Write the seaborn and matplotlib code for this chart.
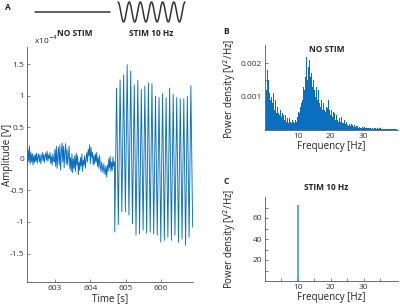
import numpy as np
import pandas as pd
import matplotlib
matplotlib.use("Agg")
import matplotlib.pyplot as plt
from matplotlib.ticker import FixedLocator
import seaborn as sns

# ---------------- data ----------------
# Panel A: no-stim segment (x1e-4 V), sampled every 0.02 s from 602.22 s
nostim_t0 = 602.22
nostim_dt = 0.02
nostim_vals = [
    -0.1, 0.15, -0.05, 0.2, -0.08, 0.1, -0.05, 0.08, -0.1,
    0.05, -0.06, 0.07, -0.04, 0.09, -0.07, 0.03, 0.08, -0.05, 0.06, -0.08, 0.02, 0.1, -0.03,
    0.07, -0.06, 0.05, 0.09, -0.02, 0.12, -0.04, 0.06, 0.0, 0.1, -0.07, 0.04, -0.1, 0.08, -0.02,
    -0.05, 0.15, -0.12, 0.2, -0.15, 0.05, 0.18, -0.1, 0.22, -0.18, 0.1, 0.25, -0.05, 0.2, -0.14,
    0.12, 0.24, -0.08, 0.15, -0.1, 0.05, 0.2, -0.16, 0.02, -0.2, 0.08,
    -0.22, 0.0, -0.15, 0.05, -0.2, 0.09, -0.1, 0.05, -0.25, -0.05, -0.18, 0.02, -0.12, 0.08,
    -0.2, -0.02, -0.1, 0.05, -0.15, 0.0,
    0.1, -0.05, 0.15, 0.05, 0.22, -0.08, 0.18, 0.02, 0.1, -0.1,
    0.05, -0.08, 0.08, -0.05, 0.1, -0.12, 0.02, -0.15, 0.05, -0.1, -0.2, -0.05, -0.15, -0.22,
    -0.08, -0.18, -0.25, -0.12, -0.29,
    -0.1, -0.2, 0.0, -0.15, 0.04, -0.2, -0.05, -0.18, 0.03, -0.12, -0.05,
]
# Panel A: 10 Hz stimulation segment, troughs and peaks (x1e-4 V)
stim_t0 = 604.69
stim_half_period = 0.05
stim_troughs = [-1.16, -1.04, -0.84, -0.84, -0.89, -1.03, -1.21, -1.19, -1.13, -1.18, -1.16, -1.19,
                -1.21, -1.32, -1.29, -1.24, -1.29, -1.21, -1.32, -1.27, -1.37, -1.24, -1.08]
stim_peaks = [1.12, 1.25, 1.33, 1.49, 1.39, 1.17, 1.24, 1.10, 1.15, 1.20, 1.19,
              0.99, 0.97, 1.03, 0.97, 1.12, 1.02, 0.97, 0.95, 0.95, 0.99, 1.16]

# Panel B: power spectrum, no stim (x1e-3 V^2/Hz), 0.5 .. 40 Hz step 0.25
psd_f0, psd_df = 0.5, 0.25
psd_nostim = [
    1.2, 1.8,
    1.5, 1.1, 1.3, 0.9,   1.0, 0.8, 1.1, 0.7,   0.6, 0.9, 0.5, 0.7,   0.5, 0.8, 0.45, 0.6,
    0.4, 0.5, 0.35, 0.45, 0.3, 0.45, 0.25, 0.35, 0.3, 0.2, 0.35, 0.25, 0.2, 0.3, 0.15, 0.25,
    0.2, 0.3, 0.25, 0.35, 0.4, 0.55, 0.5, 0.7,  0.8, 1.0, 0.9, 1.3,   1.2, 1.6, 1.4, 2.2,
    1.5, 1.9, 2.1, 1.6,   1.4, 1.7, 1.3, 1.5,   1.2, 1.7, 1.0, 1.3,   0.9, 1.2, 0.8, 1.0,
    0.7, 0.9, 0.6, 0.8,   0.6, 0.85, 0.55, 0.7, 0.65, 0.9, 0.5, 0.6,  0.45, 0.6, 0.4, 0.55,
    0.35, 0.5, 0.3, 0.45, 0.3, 0.45, 0.25, 0.35, 0.25, 0.4, 0.2, 0.3, 0.2, 0.3, 0.18, 0.25,
    0.15, 0.22, 0.12, 0.18, 0.12, 0.18, 0.1, 0.15, 0.1, 0.15, 0.08, 0.12, 0.08, 0.12, 0.07, 0.1,
    0.07, 0.1, 0.06, 0.09, 0.06, 0.08, 0.05, 0.07, 0.05, 0.07, 0.05, 0.06, 0.05, 0.06, 0.04, 0.06,
    0.04, 0.06, 0.04, 0.05, 0.04, 0.05, 0.03, 0.05, 0.03, 0.05, 0.03, 0.04, 0.03, 0.04, 0.03, 0.04,
    0.03, 0.04, 0.02, 0.03, 0.02, 0.03, 0.02, 0.03, 0.02, 0.03, 0.02, 0.03,
    0.02,
]
# Panel C: power spectrum, STIM 10 Hz
psd_stim_freq = [10.0]
psd_stim_vals = [72.0]

a_xticks = [603, 604, 605, 606]
a_yticks = [-1.5, -1, -0.5, 0, 0.5, 1, 1.5]
a_yticklabels = ["-1.5", "-1", "-0.5", "0", "0.5", "1", "1.5"]
b_yticks = [0.001, 0.002]
c_yticks = [20, 40, 60]
f_ticks = [10, 20, 30]

# ---------------- build arrays ----------------
t_nostim = nostim_t0 + nostim_dt * np.arange(len(nostim_vals))
stim_vals = []
for i, tr in enumerate(stim_troughs):
    stim_vals.append(tr)
    if i < len(stim_peaks):
        stim_vals.append(stim_peaks[i])
t_stim = stim_t0 + stim_half_period * np.arange(len(stim_vals))
df_a = pd.DataFrame({"t": np.concatenate([t_nostim, t_stim]),
                     "v": np.concatenate([nostim_vals, stim_vals])})
psd_freq = psd_f0 + psd_df * np.arange(len(psd_nostim))
df_b = pd.DataFrame({"f": psd_freq, "p": np.array(psd_nostim) * 1e-3})

# ---------------- style ----------------
sns.set_theme(style="ticks")
plt.rcParams["font.family"] = ["Open Sans", "DejaVu Sans"]
plt.rcParams.update({
    "axes.edgecolor": "#555555", "axes.linewidth": 0.6,
    "xtick.color": "#555555", "ytick.color": "#555555",
    "xtick.labelcolor": "#333333", "ytick.labelcolor": "#333333",
    "xtick.direction": "in", "ytick.direction": "in",
    "xtick.major.size": 2.2, "ytick.major.size": 2.2,
    "xtick.minor.size": 2.2, "ytick.minor.size": 2.2,
    "xtick.major.width": 0.5, "ytick.major.width": 0.5,
    "xtick.minor.width": 0.5, "ytick.minor.width": 0.5,
    "xtick.labelsize": 6, "ytick.labelsize": 6,
    "xtick.major.pad": 2, "ytick.major.pad": 2,
})
BLUE = "#0a6fbf"
LBLUE = "#3a8fd3"
TXT = "#222222"

W, H = 400, 304
fig = plt.figure(figsize=(W / 100, H / 100), dpi=100)

def frac(x0, y0, x1, y1):
    return [x0 / W, 1 - y1 / H, (x1 - x0) / W, (y1 - y0) / H]

# ---------------- Panel A ----------------
axA = fig.add_axes(frac(27, 47, 193, 282))
sns.lineplot(data=df_a, x="t", y="v", ax=axA, color=BLUE, linewidth=0.65,
             estimator=None, sort=False)
axA.set_xlim(602.21, 606.9)
axA.set_ylim(-1.95, 1.77)
axA.set_xticks(a_xticks)
axA.set_xticklabels([str(v) for v in a_xticks])
axA.set_yticks(a_yticks)
axA.set_yticklabels(a_yticklabels)
axA.set_xlabel("Time [s]", fontsize=7, color=TXT, labelpad=1)
axA.set_ylabel("Amplitude [V]", fontsize=7, color=TXT)
axA.yaxis.set_label_coords(-0.085, 0.54)
sns.despine(ax=axA)
fig.text(34 / W, 1 - 44 / H, r"x10$^{-4}$", fontsize=6, color=TXT, va="baseline")

# schematic: flat line and 10 Hz sine
axS = fig.add_axes(frac(30, 0, 190, 26))
axS.set_axis_off()
axS.set_xlim(30, 190)
axS.set_ylim(26, 0)
axS.plot([35, 110], [12, 12], color="#333333", linewidth=1.1)
xs = np.linspace(118, 185, 400)
axS.plot(xs, 12 - 10 * np.cos(2 * np.pi * (xs - 118) / ((185 - 118) / 6)),
         color="#333333", linewidth=1.1)

fig.text(75 / W, 1 - 33 / H, "NO STIM", fontsize=6, fontweight="bold", color=TXT,
         ha="center", va="center")
fig.text(151 / W, 1 - 33 / H, "STIM 10 Hz", fontsize=6, fontweight="bold", color=TXT,
         ha="center", va="center")

# ---------------- Panel B ----------------
axB = fig.add_axes(frac(265, 45, 398, 130))
sns.histplot(data=df_b, x="f", weights="p", binwidth=psd_df,
             binrange=(psd_f0 - psd_df / 2, psd_freq[-1] + psd_df / 2),
             ax=axB, color=BLUE, element="bars", linewidth=0, alpha=1.0)
axB.set_xlim(0, 40.5)
axB.set_ylim(0, 0.00255)
axB.set_xticks(f_ticks)
axB.xaxis.set_minor_locator(FixedLocator([5, 15, 25, 35]))
axB.set_yticks(b_yticks)
axB.set_yticklabels(["0.001", "0.002"])
axB.yaxis.set_minor_locator(FixedLocator([0.0005, 0.0015]))
axB.set_xlabel("Frequency [Hz]", fontsize=7, color=TXT, labelpad=1)
axB.set_ylabel("Power density [V$^2$/Hz]", fontsize=7, color=TXT)
axB.yaxis.set_label_coords(-0.20, 0.48)
sns.despine(ax=axB)
fig.text(327 / W, 1 - 50 / H, "NO STIM", fontsize=6, fontweight="bold", color=TXT,
         ha="center", va="center")

# ---------------- Panel C ----------------
axC = fig.add_axes(frac(265, 197, 398, 281))
axC.vlines(psd_stim_freq, 0, psd_stim_vals, color=LBLUE, linewidth=1.1)
axC.set_xlim(0, 40.5)
axC.set_ylim(0, 80)
axC.set_xticks(f_ticks)
axC.xaxis.set_minor_locator(FixedLocator([5, 15, 25, 35]))
axC.set_yticks(c_yticks)
axC.yaxis.set_minor_locator(FixedLocator([10, 30, 50, 70]))
axC.set_xlabel("Frequency [Hz]", fontsize=7, color=TXT, labelpad=1)
axC.set_ylabel("Power density [V$^2$/Hz]", fontsize=7, color=TXT)
axC.yaxis.set_label_coords(-0.20, 0.5)
sns.despine(ax=axC)
fig.text(326 / W, 1 - 187 / H, "STIM 10 Hz", fontsize=6, fontweight="bold", color=TXT,
         ha="center", va="center")

# panel letters
fig.text(5 / W, 1 - 7 / H, "A", fontsize=6, fontweight="bold", color=TXT, va="center")
fig.text(223 / W, 1 - 32 / H, "B", fontsize=6, fontweight="bold", color=TXT, va="center")
fig.text(223 / W, 1 - 182 / H, "C", fontsize=6, fontweight="bold", color=TXT, va="center")

fig.savefig("out.png", dpi=100)
